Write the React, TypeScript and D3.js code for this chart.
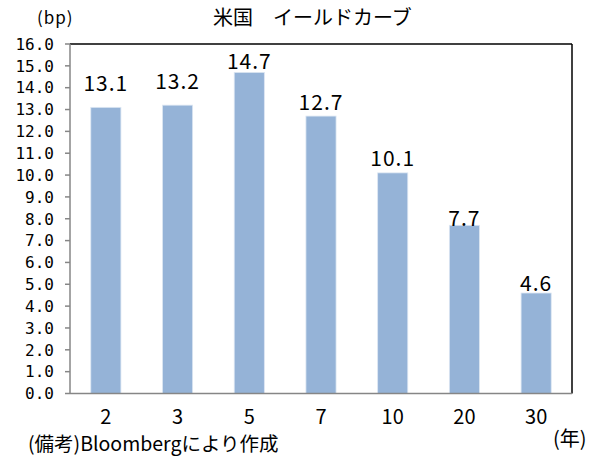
import React from "react";
import * as d3 from "d3";

const categories = ["2", "3", "5", "7", "10", "20", "30"];
const values = [13.1, 13.2, 14.7, 12.7, 10.1, 7.7, 4.6];
const yTicks = d3.range(0, 17, 1);
const labelOffsets = [16.5, 16, 3.5, 6, 6.5, -1, 2.5];

const W = 604;
const H = 468;
const L = 70, R = 572, T = 44, B = 393.5;
const FONT = "'Noto Sans CJK JP', 'Noto Sans', sans-serif";
const MONO = "'DejaVu Sans Mono', 'Liberation Mono', monospace";

export default function App() {
  const x = d3.scaleBand<string>().domain(categories).range([L, R]).paddingInner(0.58).paddingOuter(0.29);
  const y = d3.scaleLinear().domain([0, 16]).range([B, T]);
  const fmt = d3.format(".1f");
  return (
    <svg width={W} height={H} style={{ position: "absolute", left: 0, top: 0, background: "#fff" }} fontFamily={FONT}>
      <rect x={0} y={0} width={W} height={H} fill="#fff" />
      <text x={213} y={25} fontSize={20} fill="#000">米国　イールドカーブ</text>
      <text x={37} y={24} fontSize={17} fill="#000" letterSpacing={1}>(bp)</text>
      {categories.map((c, i) => (
        <rect key={c} x={x(c)} y={y(values[i])} width={x.bandwidth()} height={B - y(values[i])} fill="#95B3D7" stroke="#dce6f2" strokeWidth={0.8} />
      ))}
      <line x1={L} x2={R} y1={T} y2={T} stroke="#000" strokeWidth={1.5} />
      <line x1={R} x2={R} y1={T} y2={B} stroke="#000" strokeWidth={1.5} />
      <line x1={L} x2={L} y1={T} y2={B} stroke="#868686" strokeWidth={1.5} />
      <line x1={L} x2={R} y1={B} y2={B} stroke="#868686" strokeWidth={1.5} />
      {yTicks.map((t) => (
        <g key={t}>
          <line x1={L - 5} x2={L} y1={y(t)} y2={y(t)} stroke="#868686" strokeWidth={1.5} />
          <text x={54} y={y(t)} dy="0.36em" textAnchor="end" fontSize={16} fontFamily={MONO} fill="#000">{fmt(t)}</text>
        </g>
      ))}
      {categories.map((c) => (
        <text key={c} x={(x(c) as number) + x.bandwidth() / 2} y={424} textAnchor="middle" fontSize={20} fill="#000">{c}</text>
      ))}
      {categories.map((c, i) => (
        <text key={c} x={(x(c) as number) + x.bandwidth() / 2} y={y(values[i]) - labelOffsets[i]} textAnchor="middle" fontSize={21} letterSpacing={1} fill="#000">{fmt(values[i])}</text>
      ))}
      <text x={28} y={451} fontSize={19.5} fill="#000">(備考)Bloombergにより作成</text>
      <text x={553} y={446} fontSize={20} fill="#000">(年)</text>
    </svg>
  );
}
